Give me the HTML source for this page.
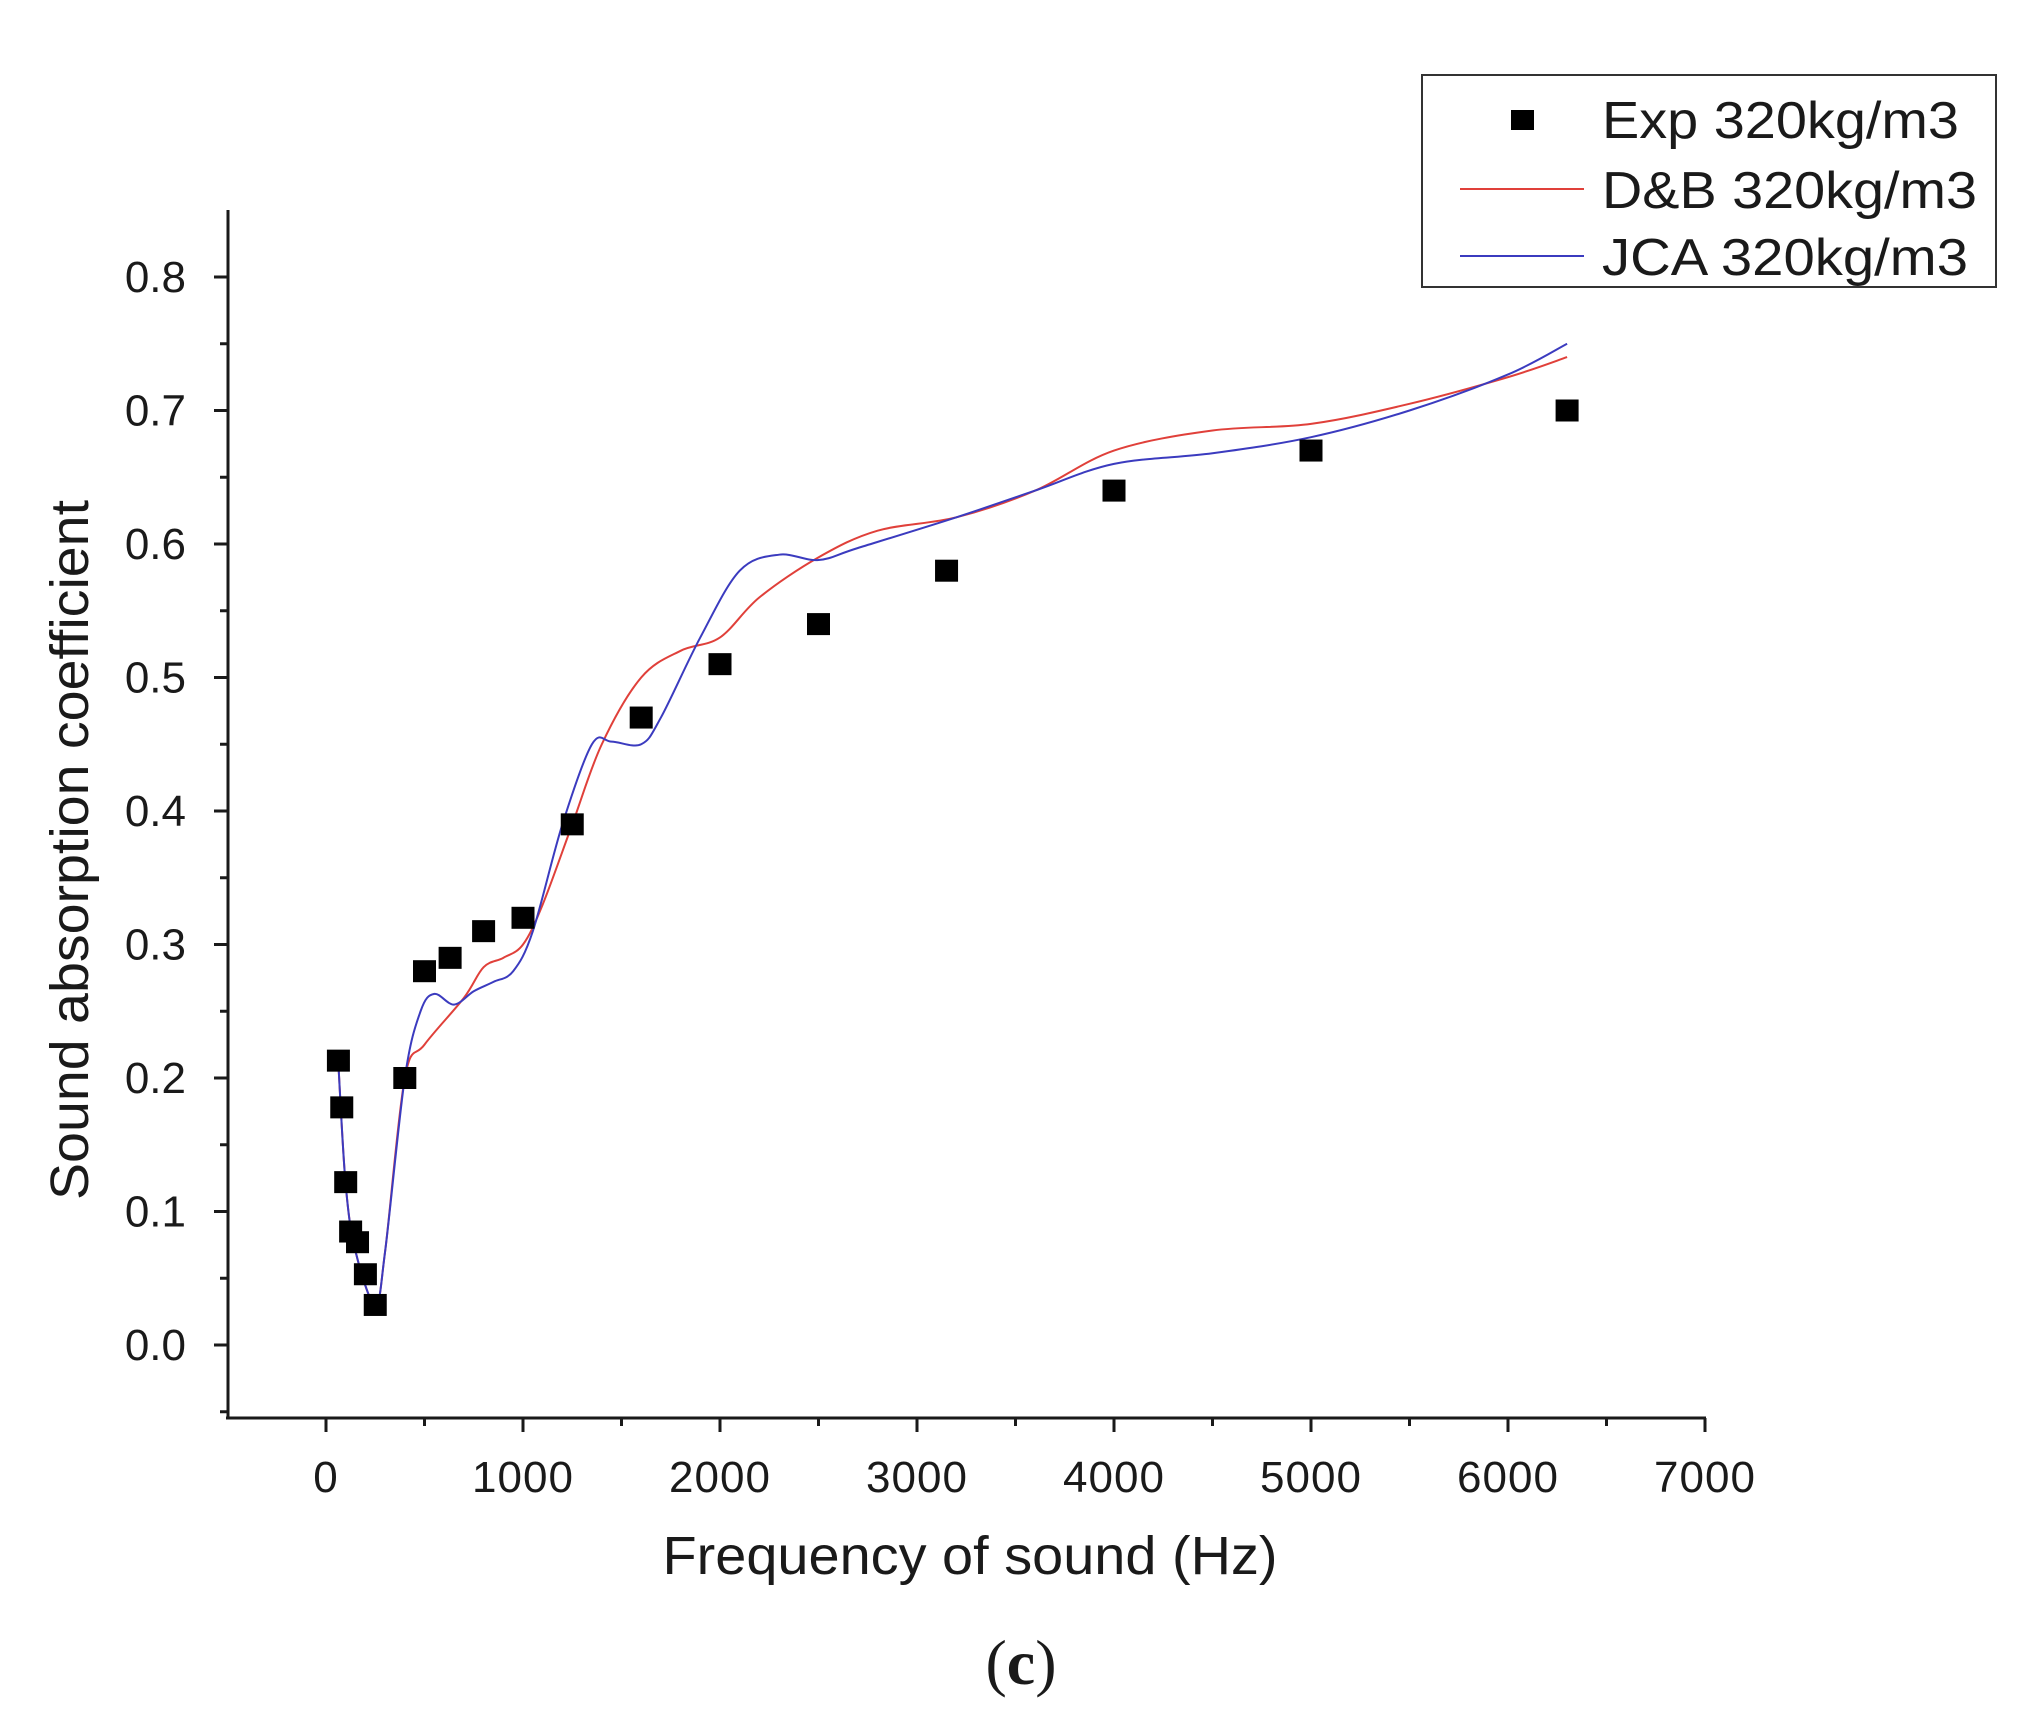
<!DOCTYPE html>
<html><head><meta charset="utf-8"><style>
html,body{margin:0;padding:0;background:#fff;}
svg{display:block;}
text{font-family:"Liberation Sans",Arial,sans-serif;fill:#1a1a1a;}
</style></head><body>
<svg id="s" width="2020" height="1720" viewBox="0 0 2020 1720" xmlns="http://www.w3.org/2000/svg">
<g stroke="#1a1a1a" stroke-width="3" fill="none">
<line x1="228" y1="210" x2="228" y2="1419"/>
<line x1="226" y1="1418" x2="1706" y2="1418"/>
</g>
<g id="ticks" stroke="#1a1a1a" stroke-width="3"></g>
<g id="labels" font-size="44" text-anchor="end"></g>
<g id="xlabels" font-size="44" text-anchor="middle"></g>
<text x="0" y="0" font-size="54" text-anchor="middle" textLength="700" lengthAdjust="spacingAndGlyphs" transform="translate(88 850) rotate(-90)">Sound absorption coefficient</text>
<text x="970" y="1574" font-size="54" text-anchor="middle" textLength="615" lengthAdjust="spacingAndGlyphs">Frequency of sound (Hz)</text>
<text x="1021" y="1684" font-size="64" text-anchor="middle" style="font-family:'Liberation Serif',serif;">(<tspan font-weight="bold">c</tspan>)</text>
<path id="red" fill="none" stroke="#e0403a" stroke-width="2"/>
<path id="blue" fill="none" stroke="#3b3bbf" stroke-width="2"/>
<g id="pts" fill="#000"></g>
<rect x="1422" y="75" width="574" height="212" fill="#fff" stroke="#333" stroke-width="2"/>
<rect x="1511" y="110" width="23" height="20" fill="#000"/>
<line x1="1460" y1="189" x2="1584" y2="189" stroke="#e0403a" stroke-width="2"/>
<line x1="1460" y1="256" x2="1584" y2="256" stroke="#3b3bbf" stroke-width="2"/>
<g font-size="52">
<text x="1602" y="138" textLength="357" lengthAdjust="spacingAndGlyphs">Exp 320kg/m3</text>
<text x="1602" y="208" textLength="375" lengthAdjust="spacingAndGlyphs">D&amp;B 320kg/m3</text>
<text x="1602" y="275" textLength="366" lengthAdjust="spacingAndGlyphs">JCA 320kg/m3</text>
</g>
</svg>
<script>
var X=function(f){return 326+f*0.197;};
var Y=function(v){return 1345-v*1335;};
var NS="http://www.w3.org/2000/svg";
function el(t,a,p,txt){var e=document.createElementNS(NS,t);for(var k in a)e.setAttribute(k,a[k]);if(txt)e.textContent=txt;document.getElementById(p).appendChild(e);}
for(var i=-1;i<=16;i++){var v=i*0.05;var y=Y(v);if(y<212)continue;var big=(i%2==0)&&i>=0;el('line',{x1:big?214:220,y1:y,x2:228,y2:y},'ticks');if(big)el('text',{x:186,y:y+15},'labels',(v).toFixed(1));}
for(var f=-500;f<=7000;f+=500){var x=X(f);if(x<229)continue;var big=f%1000==0;el('line',{x1:x,y1:1418,x2:x,y2:big?1432:1426},'ticks');if(big)el('text',{x:x,y:1492,'letter-spacing':'1'},'xlabels',String(f));}
var exp=[[63,.213],[80,.178],[100,.122],[125,.085],[160,.077],[200,.053],[250,.03],[400,.2],[500,.28],[630,.29],[800,.31],[1000,.32],[1250,.39],[1600,.47],[2000,.51],[2500,.54],[3150,.58],[4000,.64],[5000,.67],[6300,.70]];
exp.forEach(function(p){el('rect',{x:X(p[0])-11.5,y:Y(p[1])-11,width:23,height:22},'pts');});
function path(d){var P=d.map(function(p){return [X(p[0]),Y(p[1])];});var s='M'+P[0][0]+' '+P[0][1];
for(var i=0;i<P.length-1;i++){var p0=P[i-1]||P[i],p1=P[i],p2=P[i+1],p3=P[i+2]||P[i+1];
s+=' C'+(p1[0]+(p2[0]-p0[0])/6)+' '+(p1[1]+(p2[1]-p0[1])/6)+' '+(p2[0]-(p3[0]-p1[0])/6)+' '+(p2[1]-(p3[1]-p1[1])/6)+' '+p2[0]+' '+p2[1];}return s;}
var red=[[63,.21],[100,.12],[150,.07],[250,.03],[300,.07],[400,.2],[500,.225],[700,.26],[800,.283],[900,.29],[1000,.3],[1100,.33],[1250,.39],[1400,.45],[1600,.5],[1800,.52],[2000,.53],[2200,.56],[2500,.59],[2800,.61],[3200,.62],[3600,.64],[4000,.67],[4500,.685],[5000,.69],[5500,.705],[6000,.725],[6300,.74]];
var blue=[[63,.21],[100,.12],[150,.07],[250,.03],[300,.07],[400,.2],[480,.25],[550,.263],[650,.255],[750,.265],[850,.272],[950,.28],[1050,.31],[1200,.39],[1350,.45],[1450,.452],[1600,.45],[1700,.47],[1900,.53],[2100,.58],[2300,.592],[2500,.588],[2700,.597],[3200,.62],[3600,.64],[4000,.66],[4500,.668],[5000,.68],[5500,.70],[6000,.727],[6300,.75]];
document.getElementById('red').setAttribute('d',path(red));
document.getElementById('blue').setAttribute('d',path(blue));
</script>
</body></html>
